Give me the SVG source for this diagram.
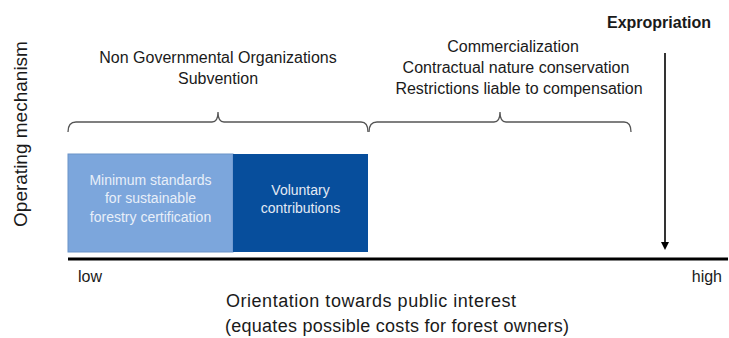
<svg xmlns="http://www.w3.org/2000/svg" width="729" height="338" viewBox="0 0 729 338">
  <defs>
    <style>
      text { font-family: "Liberation Sans", Arial, sans-serif; fill: #1a1a1a; }
      .lbl { font-size: 16px; text-anchor: middle; }
      .axis-lbl { font-size: 18px; }
      .y-lbl { font-size: 19px; text-anchor: middle; }
      .box-txt { font-size: 14px; text-anchor: middle; }
      .on-light { fill: #e8eff9; }
      .on-dark { fill: #e3eaf4; }
      .brace { fill: none; stroke: #555555; stroke-width: 1.3; }
    </style>
  </defs>
  <rect width="729" height="338" fill="#ffffff"/>

  <!-- vertical axis caption -->
  <text class="y-lbl" transform="translate(27,134) rotate(-90)">Operating mechanism</text>

  <!-- group captions above the braces -->
  <g id="ngo-label">
    <text class="lbl" x="218" y="63">Non Governmental Organizations</text>
    <text class="lbl" x="218" y="84">Subvention</text>
  </g>
  <g id="commercial-label">
    <text class="lbl" x="513" y="52">Commercialization</text>
    <text class="lbl" x="516" y="73">Contractual nature conservation</text>
    <text class="lbl" x="519" y="94">Restrictions liable to compensation</text>
  </g>
  <g id="expropriation">
    <text x="659" y="28" text-anchor="middle" font-size="16" font-weight="bold">Expropriation</text>
  </g>

  <!-- boxes -->
  <g id="min-standards">
    <rect x="68" y="154" width="165" height="98" fill="#7ca6dc" stroke="#6b93c8" stroke-width="1"/>
    <text class="box-txt on-light" x="150.5" y="185">Minimum  standards</text>
    <text class="box-txt on-light" x="150.5" y="203">for sustainable</text>
    <text class="box-txt on-light" x="150.5" y="222">forestry certification</text>
  </g>
  <g id="voluntary">
    <rect x="233" y="154" width="135" height="98" fill="#074e9c"/>
    <text class="box-txt on-dark" x="300.5" y="195">Voluntary</text>
    <text class="box-txt on-dark" x="300.5" y="213">contributions</text>
  </g>

  <!-- braces, axis and arrow -->
  <g id="connectors">
    <path class="brace" d="M68,132 Q68,122 76,122 L212,122 Q218,122 218,112 Q218,122 224,122 L361,122 Q368,122 368,132"/>
    <path class="brace" d="M369,132 Q369,122 377,122 L494,122 Q500,122 500,112 Q500,122 506,122 L624,122 Q631,122 631,132"/>
    <line x1="68" y1="259" x2="728" y2="259" stroke="#000" stroke-width="3"/>
    <line x1="665" y1="53" x2="665" y2="244" stroke="#000" stroke-width="1.6"/>
    <polygon points="661,242 669,242 665,250" fill="#000"/>
  </g>

  <!-- axis end labels and caption -->
  <text x="78" y="282" font-size="16">low</text>
  <text x="722" y="282" font-size="16" text-anchor="end">high</text>
  <text class="axis-lbl" x="226" y="307" textLength="290" lengthAdjust="spacing">Orientation towards public interest</text>
  <text class="axis-lbl" x="225" y="332" textLength="344" lengthAdjust="spacing">(equates possible costs for forest owners)</text>
</svg>
